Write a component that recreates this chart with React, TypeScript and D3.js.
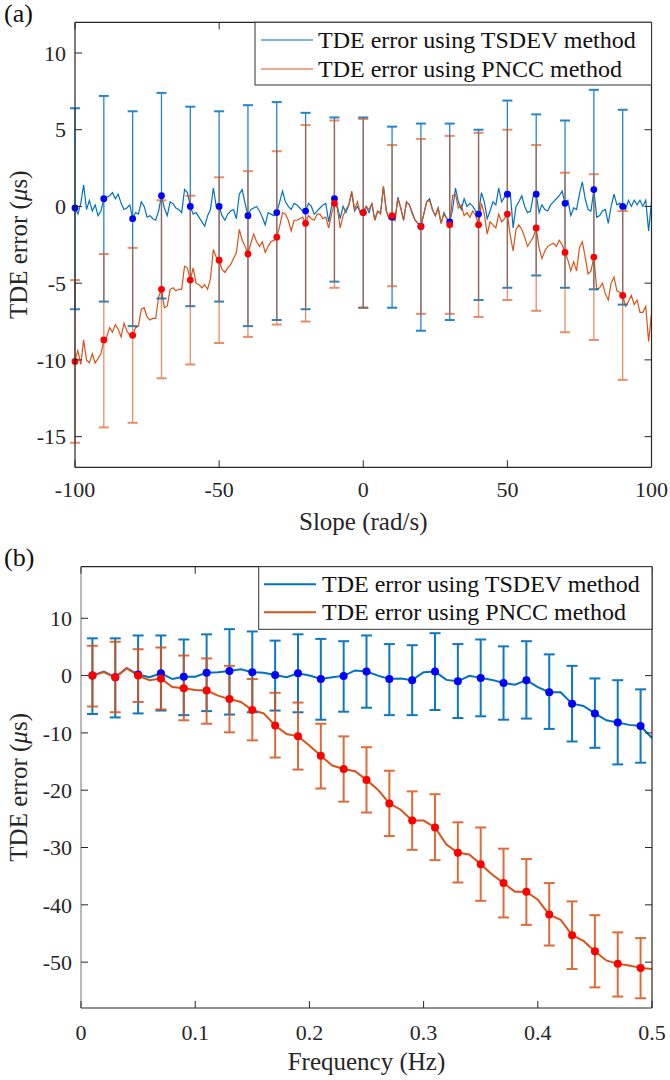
import React from 'react';
import * as d3 from 'd3';

const FONT = '"Liberation Serif", "Times New Roman", Times, serif';
const BLUE = '#0072BD';
const ORANGE = '#D95319';
const AXIS = '#262626';

// ---------- Panel (a): TDE error vs slope ----------
const slopeStart = -100;
const tsdevSlopeLine = [
  -0.1, -0.5, 0.2, 1.4, -0.2, 0.4, -0.3, 0.1, -0.6, -0.3,
  0.5, 0.6, 0.7, 0.9, 0.5, 0.8, 0.2, -0.2, -0.1, 0.1,
  -0.8, -0.4, -0.5, 0.3, 0.0, -0.7, -0.6, -0.8, -0.9, -0.3,
  0.7, -0.1, -0.6, 0.3, 0.2, -0.1, -0.2, -0.4, 1.1, 0.9,
  0.0, -0.5, -0.4, -0.7, -1.0, -1.3, -0.6, -0.2, 1.2, 0.0,
  0.0,
  -0.6, -0.9, -0.5, -0.3, -0.2, -0.8, 0.8, 1.1, 0.2, -0.6,
  -0.2, -0.1, 0.0, -0.3, -0.7, -1.2, -0.4, -0.5, -0.6, -0.4,
  0.3, 1.0, 0.3, 0.0, -0.2, 0.2, 0.1, -0.1, -0.3, -0.3,
  0.2, 0.0, -0.5, -0.3, -0.1, 0.1, 0.2, -1.0, 0.0, 0.5,
  0.0, -0.8, 0.0, -0.4, 0.1, 0.9, -0.3, 0.0, -0.4, -0.4,
  0.0, -0.4, 0.2, -0.9, -0.3, -0.4, 1.3, -0.3, -0.8, -0.7,
  -0.9, 0.6, -0.1, -0.9, 0.3, 0.1, -0.4, -0.9, -1.1, -1.3,
  -0.5, 0.3, 0.5, -0.2, -0.6, -0.1, -1.1, -0.4, -0.8, -1.0,
  -0.2, 1.2, 0.3, -0.2, 0.5, 0.0, 0.2, 0.0, -0.3, -0.5,
  0.9, 0.3, -0.8, -0.3, 0.3, 0.1, 1.2, 0.3, 0.6, 0.8,
  0.9, -1.4, 0.0, 0.3, 0.7, 0.0, -0.4, -0.3, 0.7, 0.8,
  -0.4, 0.1, -0.2, -0.3, 0.1, 0.3, 0.5, 0.7, 1.0, 0.2,
  0.4, -0.6, -0.1, -0.2, 0.8, 1.6, 0.5, -0.2, -0.3, 1.1,
  -0.7, -0.6, -0.3, -0.2, -1.1, 0.0, 0.8, 0.1, 0.2, 0.0,
  -0.2, 0.4, 0.0, 0.4, 0.1, 0.4, 0.0, 0.4, -1.6, 0.3,
];
const pnccSlopeLine = [
  -10.0, -9.4, -10.3, -8.7, -10.0, -10.2, -9.6, -10.2, -9.9, -9.6,
  -8.7, -8.5, -7.9, -8.2, -7.7, -8.0, -8.5, -7.6, -8.1, -8.4,
  -8.4, -7.9, -7.8, -6.7, -6.6, -7.2, -7.4, -7.3, -7.3, -5.9,
  -5.4, -6.6, -6.5, -5.4, -5.3, -5.5, -5.4, -5.4, -3.9, -4.0,
  -4.8, -4.0, -5.0, -5.1, -5.3, -5.1, -5.4, -4.7, -2.8, -3.3,
  -3.5,
  -4.1, -4.3, -4.0, -3.8, -3.4, -3.0, -1.5, -2.2, -2.6, -3.1,
  -2.4, -1.8, -2.3, -2.6, -2.3, -3.0, -2.6, -2.3, -2.2, -2.0,
  -1.3, -0.4, -0.5, -0.9, -1.6, -0.9, -0.9, -0.8, -0.7, -1.1,
  -0.6, -0.8, -0.9, -0.5, -0.5, -0.8, -0.7, -1.4, -0.5, 0.2,
  -0.1, -1.4, -0.6, -0.2, 0.1, 1.0, -0.2, 0.3, -0.5, -0.4,
  0.0, -0.2, 0.2, -0.9, -0.3, -0.5, 1.3, -0.3, -0.8, -0.6,
  -0.9, 0.5, -0.1, -0.9, 0.3, 0.1, -0.5, -0.9, -1.1, -1.3,
  -0.5, 0.3, 0.4, -0.2, -0.6, -0.1, -1.1, -0.5, -0.8, -1.2,
  0.7, 0.8, -0.1, 0.1, -0.6, -0.4, -0.7, -0.3, -0.6, -1.2,
  0.2, -0.5, -1.8, -1.0, -1.2, -1.4, -0.5, -1.0, -0.8, -0.5,
  -1.9, -2.9, -1.5, -1.2, -1.5, -2.0, -2.6, -2.3, -2.0, -1.4,
  -2.7, -3.4, -2.9, -2.6, -2.5, -2.4, -2.6, -2.2, -2.5, -3.0,
  -3.5, -4.2, -3.6, -4.2, -2.7, -2.3, -3.3, -4.4, -4.2, -3.3,
  -5.4, -5.3, -5.0, -5.7, -6.1, -5.0, -4.6, -5.5, -5.6, -5.8,
  -6.5, -6.2, -5.8, -6.4, -6.1, -6.9, -6.9, -6.5, -8.8, -7.0,
];
const slopeMarks = [-100, -90, -80, -70, -60, -50, -40, -30, -20, -10, 0, 10, 20, 30, 40, 50, 60, 70, 80, 90];
const tsdevSlopeMean = [-0.1, 0.5, -0.8, 0.7, 0.0, 0.0, -0.6, -0.4, -0.3, 0.5, -0.4, -0.7, -1.3, -1.0, -0.5, 0.8, 0.8, 0.2, 1.1, 0.0];
const tsdevSlopeUpper = [6.4, 7.2, 6.2, 7.4, 6.5, 6.2, 6.6, 6.8, 6.1, 5.8, 5.8, 5.2, 5.4, 5.4, 5.0, 6.9, 6.0, 5.6, 7.6, 6.3];
const tsdevSlopeLower = [-6.7, -6.2, -7.8, -6.0, -6.5, -6.2, -7.8, -7.4, -6.7, -4.9, -6.6, -6.6, -8.1, -7.4, -6.1, -5.3, -4.5, -5.3, -5.4, -6.4];
const pnccSlopeMean = [-10.1, -8.7, -8.4, -5.4, -4.8, -3.5, -3.1, -2.0, -1.1, 0.2, -0.4, -0.6, -1.3, -1.2, -1.2, -0.5, -1.4, -3.0, -3.3, -5.8];
const pnccSlopeUpper = [-4.8, -3.1, -2.7, 0.4, 0.7, 1.9, 2.3, 3.6, 5.3, 5.6, 5.7, 4.0, 4.4, 4.6, 4.8, 5.0, 4.0, 2.2, 2.1, -0.3];
const pnccSlopeLower = [-15.4, -14.4, -14.1, -11.2, -10.3, -8.9, -8.5, -7.7, -7.5, -5.3, -6.6, -5.2, -7.0, -7.0, -7.2, -6.1, -6.8, -8.2, -8.7, -11.3];
const slopeTicks = [-100, -50, 0, 50, 100];
const slopeYTicks = [-15, -10, -5, 0, 5, 10];

// ---------- Panel (b): TDE error vs frequency ----------
const freqLineStart = 0.01;
const freqLineStep = 0.01;
const tsdevFreqLine = [
  0.0, 0.7, -0.3, 1.3, 0.2, -0.3, 0.4, -0.6, -0.2, -0.2,
  0.5, 0.6, 0.8, 1.1, 0.6, 0.5, 0.1, -0.3, 0.4, 0.0,
  -0.6, -0.3, -0.05, 0.9, 0.7, 0.0, -0.6, -0.5, -0.8, 0.6,
  0.7, -0.75, -1.0, -0.05, -0.4, -0.75, -1.3, -1.6, -0.8, -2.0,
  -2.9, -2.9, -4.9, -5.3, -6.6, -7.8, -8.2, -8.6, -8.8, -10.9,
];
const pnccFreqLine = [
  0.0, 0.6, -0.3, 1.3, 0.0, -0.8, -0.5, -2.0, -2.2, -2.5,
  -2.6, -3.5, -4.1, -4.6, -6.0, -6.6, -8.7, -10.2, -10.6, -12.2,
  -14.0, -15.7, -16.3, -16.7, -18.2, -19.9, -22.3, -23.4, -25.3, -25.3,
  -26.5, -29.5, -30.9, -31.2, -32.9, -34.7, -36.2, -37.7, -37.7, -39.1,
  -41.7, -42.6, -45.3, -46.3, -48.1, -49.7, -50.3, -50.6, -51.0, -51.2,
];
const freqMarks = [0.01, 0.03, 0.05, 0.07, 0.09, 0.11, 0.13, 0.15, 0.17, 0.19, 0.21, 0.23, 0.25, 0.27, 0.29, 0.31, 0.33, 0.35, 0.37, 0.39, 0.41, 0.43, 0.45, 0.47, 0.49];
const tsdevFreqMean = [0.0, -0.3, 0.2, 0.4, -0.2, 0.5, 0.8, 0.6, 0.1, 0.4, -0.6, -0.05, 0.7, -0.6, -0.8, 0.7, -1.0, -0.4, -1.3, -0.8, -2.9, -4.9, -6.6, -8.2, -8.8];
const tsdevFreqUpper = [6.5, 6.5, 7.0, 7.0, 6.3, 7.2, 8.1, 7.7, 6.1, 7.2, 6.4, 6.0, 7.0, 5.5, 5.3, 7.4, 5.5, 6.3, 5.1, 6.0, 3.7, 1.7, -0.5, -0.8, -2.4];
const tsdevFreqLower = [-6.7, -7.3, -6.6, -6.1, -6.9, -6.2, -6.8, -6.4, -6.1, -6.4, -7.7, -6.3, -5.6, -6.9, -6.9, -6.0, -7.4, -7.1, -7.7, -7.5, -9.3, -11.5, -12.6, -15.5, -15.2];
const pnccFreqMean = [0.0, -0.3, 0.0, -0.5, -2.2, -2.6, -4.1, -6.0, -8.7, -10.6, -14.0, -16.3, -18.2, -22.3, -25.3, -26.5, -30.9, -32.9, -36.2, -37.7, -41.7, -45.3, -48.1, -50.3, -51.0];
const pnccFreqUpper = [5.2, 5.9, 4.6, 4.9, 3.5, 3.0, 1.7, -0.6, -3.0, -4.7, -8.4, -10.6, -12.5, -16.6, -20.2, -20.7, -25.6, -26.5, -30.2, -32.0, -36.2, -39.4, -41.8, -44.8, -45.8];
const pnccFreqLower = [-5.4, -6.4, -4.6, -5.9, -7.8, -8.4, -9.9, -11.3, -14.3, -16.4, -19.7, -22.0, -23.9, -28.0, -30.4, -32.2, -36.1, -39.3, -42.2, -43.5, -47.1, -51.2, -54.4, -56.0, -56.3];
const freqTicks = [0, 0.1, 0.2, 0.3, 0.4, 0.5];
const freqTickLabels = ['0', '0.1', '0.2', '0.3', '0.4', '0.5'];
const freqYTicks = [-50, -40, -30, -20, -10, 0, 10];

const legendLabels = ['TDE error using TSDEV method', 'TDE error using PNCC method'];

const txt = { fontFamily: FONT };

function ErrorBars({ xs, lo, hi, x, y, color, width, capW, capWidth, opacity }: any) {
  return (
    <g stroke={color} fill="none" opacity={opacity}>
      {xs.map((v: number, i: number) => {
        const px = x(v);
        return (
          <g key={i}>
            <line x1={px} x2={px} y1={y(lo[i])} y2={y(hi[i])} strokeWidth={width} />
            <line x1={px - capW} x2={px + capW} y1={y(lo[i])} y2={y(lo[i])} strokeWidth={capWidth} />
            <line x1={px - capW} x2={px + capW} y1={y(hi[i])} y2={y(hi[i])} strokeWidth={capWidth} />
          </g>
        );
      })}
    </g>
  );
}

function Frame({ x, y, xTicks, xLabels, yTicks, left, right, top, bottom, leftColor, xTickY, xLabel, xLabelY }: any) {
  const tl = 7;
  return (
    <g>
      <line x1={left} x2={right} y1={top} y2={top} stroke={AXIS} strokeWidth={1.2} />
      <line x1={right} x2={right} y1={top} y2={bottom} stroke={AXIS} strokeWidth={1.2} />
      <line x1={left} x2={right} y1={bottom} y2={bottom} stroke={AXIS} strokeWidth={1.2} />
      <line x1={left} x2={left} y1={top} y2={bottom} stroke={leftColor} strokeWidth={1.2} />
      {xTicks.map((t: number, i: number) => (
        <g key={'x' + i}>
          <line x1={x(t)} x2={x(t)} y1={bottom} y2={bottom - tl} stroke={AXIS} strokeWidth={1} />
          <line x1={x(t)} x2={x(t)} y1={top} y2={top + tl} stroke={AXIS} strokeWidth={1} />
          <text x={x(t)} y={xTickY} textAnchor="middle" fontSize={22} fill="#262626" style={txt} fontFamily={FONT}>{xLabels[i]}</text>
        </g>
      ))}
      {yTicks.map((t: number, i: number) => (
        <g key={'y' + i}>
          <line x1={left} x2={left + tl} y1={y(t)} y2={y(t)} stroke={AXIS} strokeWidth={1} />
          <line x1={right} x2={right - tl} y1={y(t)} y2={y(t)} stroke={AXIS} strokeWidth={1} />
          <text x={left - 9} y={y(t)} dy="0.35em" textAnchor="end" fontSize={22} fill="#262626" style={txt} fontFamily={FONT}>{String(t)}</text>
        </g>
      ))}
      <text x={(left + right) / 2} y={xLabelY} textAnchor="middle" fontSize={25} fill="#262626" style={txt} fontFamily={FONT}>{xLabel}</text>
      <text transform={`translate(${27},${(top + bottom) / 2}) rotate(-90)`} textAnchor="middle" fontSize={25} fill="#262626" style={txt} fontFamily={FONT}>
        TDE error (<tspan fontStyle="italic" style={txt}>μ</tspan>s)
      </text>
    </g>
  );
}

function Legend({ x0, y0, x1, y1, rows, sx0, sx1, tx, lw }: any) {
  return (
    <g>
      <rect x={x0} y={y0} width={x1 - x0} height={y1 - y0} fill="#fff" stroke="#333" strokeWidth={1} />
      {[BLUE, ORANGE].map((c, i) => (
        <g key={i}>
          <line x1={sx0} x2={sx1} y1={rows[i]} y2={rows[i]} stroke={c} strokeWidth={lw} />
          <text x={tx} y={rows[i]} dy="0.33em" fontSize={24} fill="#111" style={txt} fontFamily={FONT}>{legendLabels[i]}</text>
        </g>
      ))}
    </g>
  );
}

export default function App() {
  // Panel (a)
  const ax = d3.scaleLinear().domain([-100, 100]).range([75, 651.5]);
  const ay = d3.scaleLinear().domain([-17, 12]).range([467.3, 22.3]);
  const aLine = d3.line<number>().x((_, i) => ax(slopeStart + i)).y((d) => ay(d));

  // Panel (b)
  const bx = d3.scaleLinear().domain([0, 0.5]).range([81, 652]);
  const by = d3.scaleLinear().domain([-58, 19]).range([1008, 566.7]);
  const bLine = d3.line<number>().x((_, i) => bx(freqLineStart + i * freqLineStep)).y((d) => by(d));

  return (
    <svg width={670} height={1080} style={{ position: 'absolute', left: 0, top: 0, background: '#fff', fontFamily: FONT }}>
      <rect width={670} height={1080} fill="#fff" />
      {/* Panel (a) */}
      <text x={4} y={22} fontSize={26} fill="#111" style={txt} fontFamily={FONT}>(a)</text>
      <g>
        <path d={aLine(tsdevSlopeLine) || ''} fill="none" stroke={BLUE} strokeWidth={1.2} />
        <path d={aLine(pnccSlopeLine) || ''} fill="none" stroke={ORANGE} strokeWidth={1.2} />
        <ErrorBars xs={slopeMarks} lo={tsdevSlopeLower} hi={tsdevSlopeUpper} x={ax} y={ay} color={BLUE} width={1.3} capW={5} capWidth={2} opacity={0.85} />
        <ErrorBars xs={slopeMarks} lo={pnccSlopeLower} hi={pnccSlopeUpper} x={ax} y={ay} color={ORANGE} width={1.3} capW={5} capWidth={2} opacity={0.65} />
        {slopeMarks.map((v, i) => <circle key={'ab' + i} cx={ax(v)} cy={ay(tsdevSlopeMean[i])} r={3.4} fill="#0000ff" />)}
        {slopeMarks.map((v, i) => <circle key={'ar' + i} cx={ax(v)} cy={ay(pnccSlopeMean[i])} r={3.4} fill="#ff0000" />)}
      </g>
      <Frame x={ax} y={ay} xTicks={slopeTicks} xLabels={slopeTicks.map(String)} yTicks={slopeYTicks}
        left={75} right={651.5} top={22.3} bottom={467.3} leftColor={AXIS} xTickY={497} xLabel="Slope (rad/s)" xLabelY={530} />
      <Legend x0={255} y0={22.3} x1={651.5} y1={85} rows={[40, 69]} sx0={261} sx1={313} tx={318} lw={1.2} />

      {/* Panel (b) */}
      <text x={4} y={566} fontSize={26} fill="#111" style={txt} fontFamily={FONT}>(b)</text>
      <g>
        <path d={bLine(tsdevFreqLine) || ''} fill="none" stroke={BLUE} strokeWidth={2} />
        <path d={bLine(pnccFreqLine) || ''} fill="none" stroke={ORANGE} strokeWidth={2} />
        <ErrorBars xs={freqMarks} lo={tsdevFreqLower} hi={tsdevFreqUpper} x={bx} y={by} color={BLUE} width={2} capW={5.5} capWidth={2} opacity={0.95} />
        <ErrorBars xs={freqMarks} lo={pnccFreqLower} hi={pnccFreqUpper} x={bx} y={by} color={ORANGE} width={2} capW={5.5} capWidth={2} opacity={0.85} />
        {freqMarks.map((v, i) => <circle key={'bb' + i} cx={bx(v)} cy={by(tsdevFreqMean[i])} r={4} fill="#0000ff" />)}
        {freqMarks.map((v, i) => <circle key={'br' + i} cx={bx(v)} cy={by(pnccFreqMean[i])} r={4} fill="#ff0000" />)}
      </g>
      <Frame x={bx} y={by} xTicks={freqTicks} xLabels={freqTickLabels} yTicks={freqYTicks}
        left={81} right={652} top={566.7} bottom={1008} leftColor="#8c8c8c" xTickY={1040} xLabel="Frequency (Hz)" xLabelY={1070} />
      <Legend x0={258.7} y0={566.7} x1={652} y1={629.3} rows={[584.3, 612.3]} sx0={264} sx1={316} tx={322} lw={2} />
    </svg>
  );
}
